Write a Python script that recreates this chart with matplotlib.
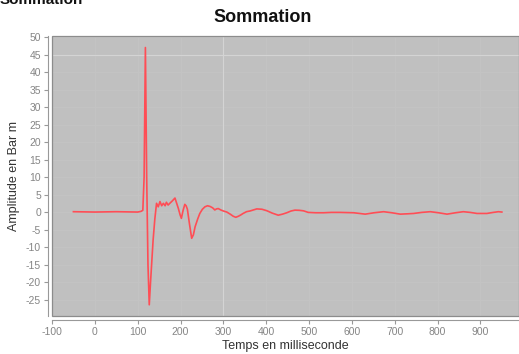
import matplotlib
matplotlib.use("Agg")
import matplotlib.pyplot as plt
from matplotlib.patches import Rectangle

plt.rcParams["axes.unicode_minus"] = False

title = "Sommation"
xlabel = "Temps en milliseconde"
ylabel = "Amplitude en Bar m"
xticks = [-100, 0, 100, 200, 300, 400, 500, 600, 700, 800, 900]
yticks = [-25, -20, -15, -10, -5, 0, 5, 10, 15, 20, 25, 30, 35, 40, 45, 50]

t = [-50, 0, 50, 100, 108, 112, 115, 118, 121, 124, 127, 130, 136, 140, 144, 148,
     152, 156, 160, 164, 167, 171, 175, 181, 187, 191, 195, 199, 202, 206, 210, 213,
     216, 221, 226, 230, 234, 240, 245, 251, 257, 263, 269, 275, 280, 284, 288, 294,
     300, 308, 316, 323, 329, 335, 341, 346, 354, 362, 370, 378, 390, 401, 414, 428,
     438, 448, 458, 467, 477, 487, 498, 515, 534, 552, 572, 588, 604, 618, 631, 652,
     674, 693, 713, 730, 744, 763, 783, 802, 822, 842, 860, 876, 892, 905, 915, 930,
     942, 950]
amp = [0.1, 0.0, 0.1, 0.0, 0.2, 0.5, 10, 47, 10, -15, -26.5, -20, -8, -2, 2.5, 1.5,
       3.0, 1.8, 2.5, 1.8, 2.8, 2.0, 2.5, 3.2, 4.0, 2.5, 1.0, -0.8, -1.8, 0.5, 2.2, 1.8,
       0.8, -3.5, -7.5, -6.5, -4.2, -2.0, -0.4, 0.8, 1.5, 1.8, 1.6, 1.2, 0.6, 0.9, 1.0, 0.6,
       0.3, 0.0, -0.6, -1.2, -1.5, -1.2, -0.8, -0.4, 0.1, 0.3, 0.6, 0.9, 0.8, 0.4, -0.3, -0.9,
       -0.6, -0.2, 0.3, 0.55, 0.5, 0.35, -0.1, -0.2, -0.2, -0.1, -0.1, -0.15, -0.2, -0.4, -0.6, -0.2,
       0.1, -0.2, -0.6, -0.5, -0.4, -0.1, 0.1, -0.2, -0.6, -0.2, 0.1, -0.1, -0.4, -0.4, -0.4, -0.1,
       0.1, 0.0]

W, H = 519, 354
fig = plt.figure(figsize=(W / 100, H / 100), dpi=100)
fig.patch.set_facecolor("white")

left, top, bottom, right = 52, 36, 316, 519
ax = fig.add_axes([left / W, 1 - bottom / H, (right - left) / W, (bottom - top) / H])
ax.set_facecolor("#c0c0c0")

ax.plot(t, amp, color="#ff4d55", linewidth=1.2, zorder=3)

ax.set_xlim(-100, 990)
ax.set_ylim(-29.7, 50.3)
ax.set_xticks(xticks)
ax.set_yticks(yticks)

# faint gridlines
for xv in xticks:
    ax.axvline(xv, color="#c4c4c4", linewidth=0.6, zorder=1)
for yv in yticks:
    ax.axhline(yv, color="#c4c4c4", linewidth=0.6, zorder=1)
ax.axvline(300, color="#d4d4d4", linewidth=0.8, zorder=1)
ax.axhline(45, color="#d4d4d4", linewidth=0.8, zorder=1)

for s in ["top", "right"]:
    ax.spines[s].set_visible(False)
for s in ["left", "bottom"]:
    ax.spines[s].set_position(("outward", 3))
    ax.spines[s].set_color("#999999")
    ax.spines[s].set_linewidth(0.8)

ax.add_patch(Rectangle((0, 0), 1, 1, transform=ax.transAxes, fill=False,
                       edgecolor="#8c8c8c", linewidth=0.9, zorder=4, clip_on=False))

ax.tick_params(axis="both", colors="#999999", length=3, width=0.8, labelsize=7.5,
               labelcolor="#858585", pad=2)
for lab in ax.get_xticklabels() + ax.get_yticklabels():
    lab.set_family("Liberation Sans")

ax.set_xlabel(xlabel, fontsize=9, color="#333333", family="Liberation Sans", labelpad=2)
ax.set_ylabel(ylabel, fontsize=9, color="#333333", family="Liberation Sans", labelpad=4)

fig.text(263 / W, 1 - 17 / H, title, ha="center", va="center", fontsize=13,
         fontweight="bold", family="Liberation Sans", color="#111111")
fig.text(0, 1 - 4 / H, title, ha="left", va="baseline", fontsize=11,
         fontweight="bold", family="Liberation Sans", color="#111111")

fig.savefig("out.png", dpi=100)
